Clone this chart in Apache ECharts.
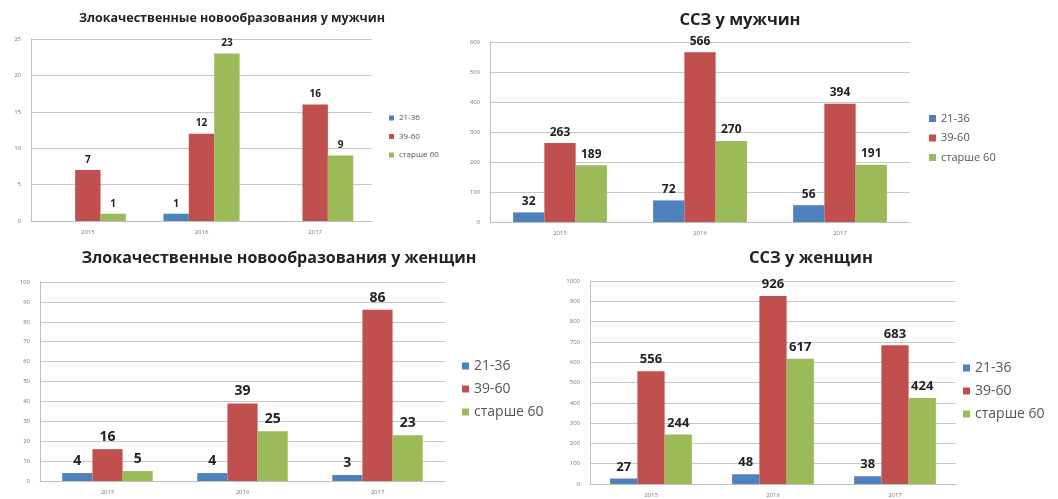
<!DOCTYPE html>
<html>
<head>
<meta charset="utf-8">
<title>Заболеваемость</title>
<script src="https://cdn.jsdelivr.net/npm/echarts@6/dist/echarts.min.js"></script>
<style>
  html, body { margin: 0; padding: 0; background: #fff; }
  #chart { width: 1058px; height: 499px; }
</style>
</head>
<body>
<div id="chart"></div>
<script>
const years = ['2015', '2016', '2017'];
const groupNames = ['21-36', '39-60', 'старше 60'];
const groupColors = ['#4f81bd', '#c0504d', '#9bbb59'];

// Злокачественные новообразования у мужчин
const cancerMen21 = [null, 1, null];
const cancerMen39 = [7, 12, 16];
const cancerMen60 = [1, 23, 9];

// ССЗ у мужчин
const cvdMen21 = [32, 72, 56];
const cvdMen39 = [263, 566, 394];
const cvdMen60 = [189, 270, 191];

// Злокачественные новообразования у женщин
const cancerWomen21 = [4, 4, 3];
const cancerWomen39 = [16, 39, 86];
const cancerWomen60 = [5, 25, 23];

// ССЗ у женщин
const cvdWomen21 = [27, 48, 38];
const cvdWomen39 = [556, 926, 683];
const cvdWomen60 = [244, 617, 424];

const FONT = '"Open Sans", "DejaVu Sans", sans-serif';

// layout of the four panels (pixels)
const panels = [
  {
    title: 'Злокачественные новообразования у мужчин', titleX: 232, titleY: 12, titleSize: 12.5,
    grid: { left: 31, top: 39, width: 341, height: 182 },
    max: 25, interval: 5, axisFont: 6, labelFont: 10,
    legend: { left: 389, top: 114, itemSize: 5, font: 8, gap: 10.5 },
    data: [cancerMen21, cancerMen39, cancerMen60]
  },
  {
    title: 'ССЗ у мужчин', titleX: 740, titleY: 12, titleSize: 16.5,
    grid: { left: 490, top: 42, width: 420, height: 180 },
    max: 600, interval: 100, axisFont: 6, labelFont: 12,
    legend: { left: 929, top: 113, itemSize: 7, font: 11, gap: 8.5 },
    data: [cvdMen21, cvdMen39, cvdMen60]
  },
  {
    title: 'Злокачественные новообразования у женщин', titleX: 279, titleY: 250, titleSize: 16,
    grid: { left: 40, top: 282, width: 405, height: 199 },
    max: 100, interval: 10, axisFont: 6, labelFont: 14,
    legend: { left: 462, top: 359, itemSize: 7, font: 14, gap: 9 },
    data: [cancerWomen21, cancerWomen39, cancerWomen60]
  },
  {
    title: 'ССЗ у женщин', titleX: 811, titleY: 250, titleSize: 16.5,
    grid: { left: 590, top: 281, width: 366, height: 203 },
    max: 1000, interval: 100, axisFont: 6, labelFont: 13,
    legend: { left: 963, top: 361, itemSize: 7, font: 14, gap: 9 },
    data: [cvdWomen21, cvdWomen39, cvdWomen60]
  }
];

const option = {
  backgroundColor: '#fff',
  animation: false,
  color: groupColors,
  title: [],
  legend: [],
  grid: [],
  xAxis: [],
  yAxis: [],
  series: []
};

panels.forEach((p, i) => {
  option.title.push({
    text: p.title,
    left: p.titleX,
    top: p.titleY,
    textAlign: 'center',
    padding: 0,
    textStyle: { fontFamily: FONT, fontSize: p.titleSize, fontWeight: 'bold', color: '#222' }
  });
  option.legend.push({
    data: groupNames,
    orient: 'vertical',
    left: p.legend.left,
    top: p.legend.top,
    padding: 0,
    icon: 'rect',
    itemWidth: p.legend.itemSize,
    itemHeight: p.legend.itemSize,
    itemGap: p.legend.gap,
    textStyle: { fontFamily: FONT, fontSize: p.legend.font, color: '#555' }
  });
  option.grid.push(Object.assign({ containLabel: false }, p.grid));
  option.xAxis.push({
    type: 'category',
    gridIndex: i,
    data: years,
    axisLine: { lineStyle: { color: '#bfbfbf' } },
    axisTick: { show: false },
    axisLabel: { fontFamily: FONT, fontSize: p.axisFont, color: '#777', margin: 8 }
  });
  option.yAxis.push({
    type: 'value',
    gridIndex: i,
    min: 0,
    max: p.max,
    interval: p.interval,
    axisLine: { show: true, lineStyle: { color: '#bfbfbf' } },
    axisTick: { show: false },
    axisLabel: {
      fontFamily: FONT, fontSize: p.axisFont, color: '#777', margin: 10,
      formatter: v => String(v)
    },
    splitLine: { lineStyle: { color: '#c8c8c8' } }
  });
  p.data.forEach((values, k) => {
    option.series.push({
      name: groupNames[k],
      type: 'bar',
      xAxisIndex: i,
      yAxisIndex: i,
      data: values,
      barGap: 0,
      barCategoryGap: '33%',
      itemStyle: { color: groupColors[k] },
      label: {
        show: true,
        position: 'top',
        distance: 5,
        fontFamily: FONT,
        fontSize: p.labelFont,
        fontWeight: 'bold',
        color: '#222'
      }
    });
  });
});

const chart = echarts.init(document.getElementById('chart'));
chart.setOption(option);
</script>
</body>
</html>
